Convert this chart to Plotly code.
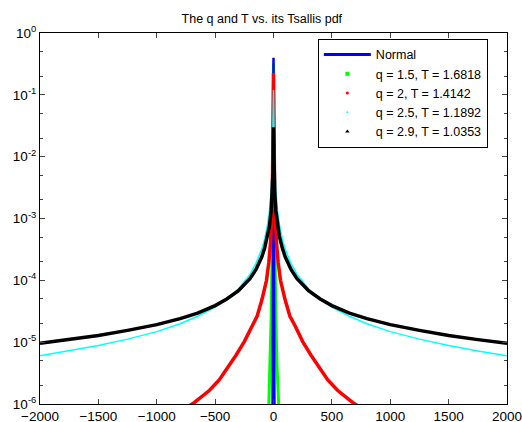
import plotly.graph_objects as go

# ---- data (right half; curves are symmetric) ----
x_black = [0, 5, 10, 20, 35, 50, 75, 100, 150, 200, 300, 400, 500, 650, 800,
           1000, 1250, 1500, 1750, 2000]
black_q29 = [0.03, 5.5e-3, 2.8e-3, 1.35e-3, 7.5e-4, 5.2e-4, 3.35e-4, 2.4e-4, 1.5e-4,
             1.07e-4, 6.8e-5, 5.0e-5, 3.9e-5, 2.95e-5, 2.4e-5, 1.92e-5, 1.55e-5,
             1.28e-5, 1.1e-5, 9.6e-6]
x_cyan = [0, 5, 10, 20, 35, 50, 75, 100, 150, 200, 300, 400, 500, 650, 800,
          1000, 1250, 1500, 1750, 2000]
cyan_q25 = [0.12, 0.0168, 6.8e-3, 2.74e-3, 1.30e-3, 8.1e-4, 4.72e-4, 3.2e-4, 1.88e-4,
            1.26e-4, 7.3e-5, 5.0e-5, 3.7e-5, 2.62e-5, 1.99e-5, 1.48e-5, 1.12e-5,
            8.8e-6, 7.2e-6, 6.0e-6]
x_red = [0, 10, 25, 40, 60, 100, 140, 190, 250, 320, 400, 465, 550, 680, 800,
         1000, 1500, 2000]
red_q2 = [0.225, 2.0e-3, 4.2e-4, 1.95e-4, 1.0e-4, 4.8e-5, 2.65e-5, 1.76e-5, 1.02e-5,
          6.2e-6, 3.7e-6, 2.45e-6, 1.65e-6, 1.05e-6, 7.5e-7, 4.8e-7, 2.1e-7, 1.2e-7]
x_green = [0, 5, 10, 20, 30, 40, 50, 75]
green_q15 = [0.32, 6.0e-3, 5.0e-4, 2.5e-5, 4.0e-6, 1.0e-6, 3.0e-7, 5e-8]
x_blue = [0, 3, 5, 8, 12]
blue_normal = [0.399, 1e-2, 1e-4, 1e-6, 1e-9]

legend_names = ["Normal", "q = 1.5, T = 1.6818", "q = 2, T = 1.4142",
                "q = 2.5, T = 1.1892", "q = 2.9, T = 1.0353"]
x_ticks = [-2000, -1500, -1000, -500, 0, 500, 1000, 1500, 2000]
y_ticks = [1e-6, 1e-5, 1e-4, 1e-3, 1e-2, 1e-1, 1e0]
y_ticktext = ["10<sup>-6</sup>", "10<sup>-5</sup>", "10<sup>-4</sup>", "10<sup>-3</sup>",
              "10<sup>-2</sup>", "10<sup>-1</sup>", "10<sup>0</sup>"]


def mirror(xs, ys):
    xx = [-v for v in reversed(xs[1:])] + list(xs)
    yy = list(reversed(ys[1:])) + list(ys)
    return xx, yy


fig = go.Figure()

series = [
    (x_green, green_q15, "#00ff00", 3),
    (x_blue, blue_normal, "#0000ff", 2.5),
    (x_red, red_q2, "#ff0000", 3.5),
    (x_cyan, cyan_q25, "#00ffff", 1.5),
    (x_black, black_q29, "#000000", 3.5),
]
for xs, ys, col, w in series:
    xx, yy = mirror(xs, ys)
    fig.add_trace(go.Scatter(x=xx, y=yy, mode="lines", line=dict(color=col, width=w),
                             showlegend=False, hoverinfo="skip"))

# legend entries (styles as in the reference legend)
fig.add_trace(go.Scatter(x=[None], y=[None], mode="lines", name=legend_names[0],
                         line=dict(color="#0000ff", width=3)))
fig.add_trace(go.Scatter(x=[None], y=[None], mode="markers", name=legend_names[1],
                         marker=dict(color="#00ff00", size=4, symbol="square")))
fig.add_trace(go.Scatter(x=[None], y=[None], mode="markers", name=legend_names[2],
                         marker=dict(color="#ff0000", size=3, symbol="circle")))
fig.add_trace(go.Scatter(x=[None], y=[None], mode="markers", name=legend_names[3],
                         marker=dict(color="#00ffff", size=2, symbol="circle")))
fig.add_trace(go.Scatter(x=[None], y=[None], mode="markers", name=legend_names[4],
                         marker=dict(color="#000000", size=4, symbol="triangle-up")))

W, H = 522, 422
fig.update_layout(
    width=W, height=H,
    margin=dict(l=40, r=15, t=33, b=18),
    paper_bgcolor="white", plot_bgcolor="white",
    font=dict(family="Liberation Sans, Arial, sans-serif", size=13.5, color="black"),
    title=dict(text="The q and T vs. its Tsallis pdf", x=0.475, xref="paper", xanchor="center",
               y=1 - 19 / H, yref="container", yanchor="middle",
               font=dict(size=12.5, color="black")),
    legend=dict(x=0.595, xanchor="left", y=0.984, yanchor="top",
                bgcolor="white", bordercolor="black", borderwidth=1,
                font=dict(size=12.5), tracegroupgap=0, itemwidth=47),
    showlegend=True,
)
fig.update_xaxes(range=[-2000, 2000], tickvals=x_ticks, ticks="inside", ticklen=5,
                 showline=True, linecolor="black", linewidth=1, mirror="ticks",
                 showgrid=False, zeroline=False, tickfont=dict(size=13.5),
                 automargin=False, ticklabeloverflow="allow")
fig.update_yaxes(type="log", range=[-6, 0], tickvals=y_ticks, ticktext=y_ticktext,
                 ticks="inside", ticklen=5,
                 minor=dict(ticks="inside", ticklen=3, showgrid=False),
                 showline=True, linecolor="black", linewidth=1, mirror="ticks",
                 showgrid=False, zeroline=False, tickfont=dict(size=13.5),
                 automargin=False, ticklabeloverflow="allow")

# remove the default 8px page margin so the figure fills the window exactly
fig.write_html("out.html", config={"displayModeBar": False},
               post_script="document.body.style.margin='0';")
